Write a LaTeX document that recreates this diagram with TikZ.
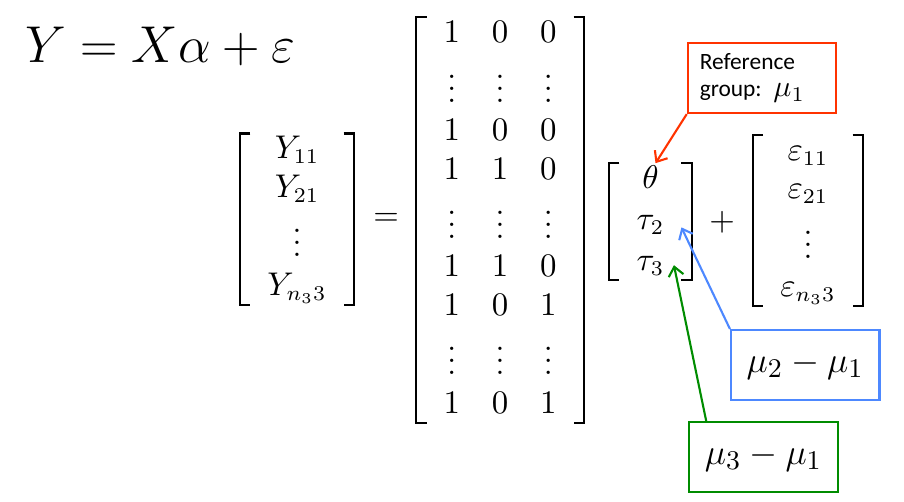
\documentclass[tikz,border=0pt]{standalone}
\usepackage{fontspec}
\newfontfamily\calib{Carlito}
\usepackage{amsmath}
\usetikzlibrary{matrix,arrows.meta}
\definecolor{refred}{RGB}{255,51,0}
\definecolor{difblue}{RGB}{77,136,255}
\definecolor{difgreen}{RGB}{0,140,0}

\begin{document}
\begin{tikzpicture}[x=1pt,y=-1pt,
font=\fontsize{10.6}{13}\selectfont,
vec/.style={matrix of math nodes, nodes={anchor=base, inner sep=0pt, text height=7.3pt, text depth=2pt}, inner xsep=9pt, inner ysep=1pt, row sep=3.5pt, column sep=10.6pt, anchor=north},
brak/.style={line width=0.7pt},
callout/.style={draw, line width=0.7pt, minimum width=49.5pt, minimum height=23.4pt, inner sep=0pt},
pointer/.style={line width=0.7pt, -{Straight Barb[length=3pt,width=5pt]}}]
\useasboundingbox (0,0) rectangle (301.33,167.33);

\node[font=\fontsize{18}{20}\selectfont, anchor=base] (model) at (53.3,21) {$Y = X\alpha + \varepsilon$};

\matrix[vec] (Yv) at (99,44.5) {
  Y_{11} \\
  Y_{21} \\[7pt]
  \vdots \\
  Y_{n_3 3} \\};

\node (eq) at (128.7,73.3) {$=$};

\matrix[vec] (Xm) at (166.7,5.8) {
  1 & 0 & 0 \\[7pt]
  \vdots & \vdots & \vdots \\
  1 & 0 & 0 \\
  1 & 1 & 0 \\[7pt]
  \vdots & \vdots & \vdots \\
  1 & 1 & 0 \\
  1 & 0 & 1 \\[7pt]
  \vdots & \vdots & \vdots \\
  1 & 0 & 1 \\};

\matrix[vec, row sep=4.3pt] (pv) at (216.8,54.4) {
  \theta \\
  \tau_2 \\
  \tau_3 \\};

\node (plus) at (240.7,74) {$+$};

\matrix[vec] (ev) at (269.3,45) {
  \varepsilon_{11} \\
  \varepsilon_{21} \\[7pt]
  \vdots \\
  \varepsilon_{n_3 3} \\};

% brackets round each vector
\foreach \m in {Yv,Xm,pv,ev} {
  \draw[brak] ([xshift=3.5pt]\m.north west) -- (\m.north west) -- (\m.south west) -- ([xshift=3.5pt]\m.south west);
  \draw[brak] ([xshift=-3.5pt]\m.north east) -- (\m.north east) -- (\m.south east) -- ([xshift=-3.5pt]\m.south east);
}

\node[callout, draw=refred, text width=41.5pt, inner xsep=4pt, align=left, font=\calib\fontsize{7.8}{9.2}\selectfont] (ref) at (254,26) {Reference\\group: {\fontsize{10}{9.2}\selectfont$\mu_1$}};
\node[callout, draw=difblue, font=\fontsize{13}{15}\selectfont] (d2) at (268.4,121.7) {$\mu_2 - \mu_1$};
\node[callout, draw=difgreen, font=\fontsize{13}{15}\selectfont] (d3) at (254.5,152.4) {$\mu_3 - \mu_1$};

\draw[pointer, refred] (ref.south west) -- ([xshift=1.7pt,yshift=1pt]pv-1-1.north);
\draw[pointer, difblue] (d2.north west) -- ([xshift=5.5pt,yshift=0.7pt]pv-2-1.base east);
\draw[pointer, difgreen] ([xshift=6pt]d3.north west) -- ([xshift=3pt,yshift=1.7pt]pv-3-1.base east);
\end{tikzpicture}
\end{document}
